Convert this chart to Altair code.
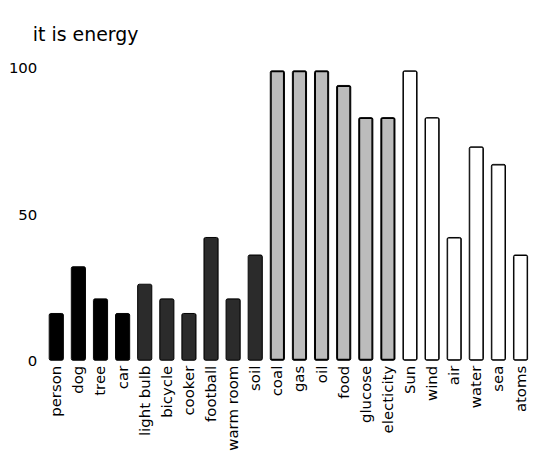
import altair as alt
import pandas as pd

categories = ["person", "dog", "tree", "car", "light bulb", "bicycle", "cooker",
              "football", "warm room", "soil", "coal", "gas", "oil", "food",
              "glucose", "electicity", "Sun", "wind", "air", "water", "sea", "atoms"]
values = [16, 32, 21, 16, 26, 21, 16, 42, 21, 36, 99, 99, 99, 94, 83, 83,
          99, 83, 42, 73, 67, 36]
groups = ["solid"] * 4 + ["dotted dark"] * 6 + ["dotted light"] * 6 + ["open"] * 6

group_domain = ["solid", "dotted dark", "dotted light", "open"]
fill_range = ["#000000", "#2b2b2b", "#bcbcbc", "#ffffff"]
stroke_widths = {"solid": 0.5, "dotted dark": 0.5, "dotted light": 3.0, "open": 2.0}

df = pd.DataFrame({"item": categories, "value": values, "group": groups})
df["sw"] = df["group"].map(stroke_widths)

chart = alt.Chart(df).mark_bar(stroke="black", cornerRadius=1.5).encode(
    x=alt.X("item:N", sort=categories,
            scale=alt.Scale(paddingInner=0.36, paddingOuter=0.2),
            axis=alt.Axis(title=None, labelAngle=-90, ticks=False, domain=False,
                          labelPadding=5, labelFontSize=15, labelFont="DejaVu Sans",
                          labelColor="black")),
    y=alt.Y("value:Q", scale=alt.Scale(domain=[0, 100]),
            axis=alt.Axis(title=None, values=[0, 50, 100], ticks=False, domain=False,
                          grid=False, labelPadding=8, labelFontSize=15,
                          labelFont="DejaVu Sans", labelColor="black")),
    fill=alt.Fill("group:N", legend=None,
                  scale=alt.Scale(domain=group_domain, range=fill_range)),
    strokeWidth=alt.StrokeWidth("sw:Q", scale=None, legend=None),
).properties(
    width=490,
    height=294,
    title=alt.TitleParams("it is energy", anchor="start", frame="group", dx=-12,
                          offset=16, fontSize=19, font="DejaVu Sans",
                          fontWeight="normal", color="black"),
    autosize=alt.AutoSizeParams(type="none"),
    padding={"left": 37, "top": 59, "right": 5, "bottom": 90},
).configure_view(stroke=None)

chart.save("out.html", embed_options={"renderer": "svg", "actions": False})
